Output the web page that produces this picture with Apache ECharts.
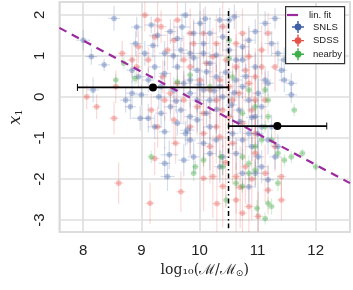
<!DOCTYPE html>
<html><head><meta charset="utf-8">
<script src="https://cdn.jsdelivr.net/npm/echarts@6/dist/echarts.min.js"></script>
<style>html,body{margin:0;padding:0;background:#fff}#c{width:353px;height:290px}</style>
</head><body><div id="c"></div>
<script>
// [x, y, xerr, yerr]
const snls = [
[8.53,1.91,0.1,0.3],[8.0,1.38,0.12,0.25],[8.14,0.98,0.1,0.2],[8.36,0.78,0.1,0.15],[8.17,0.17,0.1,0.3],
[8.92,1.7,0.1,0.25],[9.17,1.75,0.12,0.2],[9.28,1.5,0.15,0.3],[9.5,1.59,0.1,0.3],[9.62,1.42,0.1,0.25],
[9.7,1.7,0.15,0.35],[9.76,1.99,0.1,0.3],[10.01,1.79,0.1,0.3],[10.18,1.55,0.12,0.4],[10.07,1.3,0.1,0.3],
[9.84,1.06,0.15,0.3],[10.07,1.06,0.1,0.25],[10.29,1.02,0.12,0.3],[9.06,1.06,0.1,0.3],[8.84,0.65,0.1,0.3],
[8.95,0.49,0.12,0.25],[9.12,0.41,0.1,0.3],[9.4,0.57,0.1,0.3],[9.34,0.25,0.12,0.35],[9.56,0.17,0.1,0.3],
[9.73,0.33,0.15,0.3],[9.84,0.09,0.1,0.35],[8.84,0.09,0.1,0.3],[9.0,0.05,0.12,0.25],[8.73,-0.08,0.1,0.3],
[8.81,-0.24,0.1,0.3],[8.98,-0.52,0.15,0.3],[9.12,-0.52,0.1,0.35],[9.34,-0.4,0.1,0.3],[9.5,-0.24,0.12,0.3],
[9.68,-0.32,0.1,0.3],[9.84,-0.48,0.1,0.35],[9.23,-0.73,0.12,0.3],[9.4,-0.85,0.1,0.4],[9.62,-0.64,0.1,0.3],
[9.79,-0.81,0.12,0.35],[9.96,-0.56,0.1,0.3],[10.12,-0.4,0.1,0.35],[10.18,-0.73,0.12,0.3],[9.76,-0.89,0.1,0.3],
[9.9,-1.46,0.1,0.4],[9.48,-1.41,0.15,0.35],[9.4,-1.62,0.1,0.4],[9.45,-1.94,0.12,0.35],[9.73,-1.54,0.1,0.4],
[9.84,-1.05,0.1,0.35],[10.07,-1.13,0.12,0.4],[10.29,-1.05,0.1,0.4],[10.4,-1.46,0.1,0.45],[10.35,-1.7,0.1,0.4],
[10.63,0.9,0.1,0.3],[10.74,1.22,0.12,0.3],[10.85,1.38,0.1,0.35],[10.96,1.59,0.1,0.3],[11.13,1.79,0.1,0.3],
[11.3,1.91,0.1,0.25],[11.24,1.3,0.12,0.3],[11.35,1.06,0.1,0.3],[11.41,0.65,0.1,0.3],[11.46,0.41,0.1,0.3],
[11.58,0.05,0.1,0.2],[11.18,0.33,0.1,0.3],[11.01,0.09,0.1,0.35],[11.07,-0.24,0.1,0.3],[10.96,-0.48,0.1,0.35],
[10.85,-0.08,0.1,0.3],[10.74,0.25,0.1,0.3],[10.63,0.41,0.1,0.3],[10.68,-0.32,0.1,0.35],[10.57,-0.89,0.1,0.4],
[10.74,-1.05,0.1,0.4],[10.9,-1.21,0.1,0.35],[11.01,-1.46,0.1,0.4],[11.07,-1.7,0.1,0.4],[10.96,-1.86,0.1,0.35],
[10.74,-1.86,0.1,0.4],[11.18,-1.05,0.1,0.35],[11.3,-1.46,0.1,0.3],[11.35,-1.21,0.1,0.3],[10.4,1.46,0.1,0.35],
[10.51,1.87,0.1,0.3],[10.35,1.87,0.1,0.3],[10.6,1.95,0.1,0.3],[10.12,0.61,0.1,0.3],[10.29,0.49,0.12,0.3],
[9.96,0.65,0.1,0.3],[9.62,0.73,0.1,0.3],[9.84,0.41,0.1,0.3],[10.07,0.17,0.1,0.35],[10.18,-0.08,0.1,0.3],
[10.4,0.0,0.1,0.3],[9.96,-0.08,0.1,0.3],[9.23,0.73,0.1,0.3],[10.35,0.25,0.1,0.35],[9.4,1.06,0.1,0.3],
[9.68,1.14,0.12,0.3],[10.18,0.82,0.1,0.3],[10.96,0.73,0.1,0.35],[11.13,0.41,0.1,0.3],[10.51,1.14,0.1,0.3],
[10.74,0.9,0.1,0.3],[11.46,0.9,0.1,0.3],[11.07,-0.73,0.1,0.3],[10.85,-0.89,0.1,0.35],[10.63,-1.38,0.1,0.4],
[11.24,-0.73,0.1,0.3],[11.58,0.33,0.1,0.25],[10.85,-2.19,0.1,0.4],[11.18,-2.02,0.1,0.35],[10.18,-1.38,0.1,0.4],
[9.9,0.95,0.1,0.3],[10.0,0.3,0.1,0.3],[10.25,0.15,0.1,0.3],[10.3,-0.3,0.1,0.35],[9.6,-0.1,0.1,0.3],
[9.3,0.0,0.1,0.3],[10.45,0.6,0.1,0.3],[10.6,0.1,0.1,0.3],[10.8,0.5,0.1,0.3],[10.9,-0.5,0.1,0.3],
[11.0,-0.9,0.1,0.35],[10.7,-0.6,0.1,0.3],[10.55,-0.2,0.1,0.3],[9.55,1.0,0.1,0.3],[9.2,1.25,0.1,0.3],
[8.9,1.3,0.1,0.3],[10.1,1.9,0.1,0.3],[9.9,1.55,0.1,0.3]
];
const sdss = [
[9.06,1.99,0.08,0.4],[9.28,1.87,0.08,0.5],[9.34,1.71,0.1,0.4],[9.62,1.87,0.08,0.5],[8.67,1.06,0.08,0.3],
[8.84,0.9,0.08,0.4],[8.06,0.0,0.08,0.3],[8.23,-0.24,0.08,0.3],[8.53,-0.52,0.08,0.4],[8.61,-2.1,0.08,0.5],
[9.15,-2.59,0.08,0.5],[9.68,-2.31,0.08,0.5],[9.59,-1.13,0.08,0.5],[9.23,-1.5,0.08,0.4],[9.17,-0.32,0.08,0.4],
[9.37,0.49,0.08,0.4],[9.12,0.9,0.08,0.3],[9.73,0.9,0.08,0.6],[9.9,1.3,0.08,0.6],[10.07,1.55,0.08,0.6],
[10.23,0.98,0.08,0.7],[9.84,0.73,0.08,0.6],[9.5,0.09,0.08,0.5],[9.73,-0.08,0.08,0.6],[9.96,-0.24,0.08,0.7],
[10.07,-0.4,0.08,0.8],[10.18,0.17,0.08,0.7],[10.29,-0.08,0.08,0.8],[10.4,-0.32,0.08,0.9],[9.84,-0.73,0.08,0.7],
[10.07,-0.89,0.08,0.8],[10.29,-0.73,0.08,0.9],[10.35,-0.97,0.08,1.0],[10.18,-1.21,0.08,0.9],[10.23,-1.94,0.08,1.0],
[10.07,-1.98,0.08,0.8],[10.4,-2.18,0.08,1.0],[10.63,-2.51,0.08,0.9],[10.74,-2.83,0.08,0.8],[10.85,-2.67,0.08,0.8],
[11.01,-2.91,0.08,0.6],[10.63,-1.94,0.08,0.9],[10.79,-1.7,0.08,0.9],[10.96,-1.37,0.08,0.8],[11.13,-1.86,0.08,0.7],
[11.18,-2.27,0.08,0.6],[11.41,-2.51,0.08,0.5],[11.41,-1.94,0.08,0.5],[11.3,-1.21,0.08,0.6],[10.57,-1.13,0.08,1.0],
[10.74,-0.64,0.08,0.9],[10.9,-0.32,0.08,0.8],[10.57,-0.08,0.08,0.9],[10.68,0.09,0.08,0.8],[10.85,0.33,0.08,0.8],
[10.96,0.49,0.08,0.7],[10.79,0.65,0.08,0.8],[10.63,0.73,0.08,0.8],[10.85,0.98,0.08,0.7],[11.07,1.14,0.08,0.6],
[10.63,1.3,0.08,0.8],[10.74,1.55,0.08,0.6],[11.18,1.55,0.08,0.5],[11.3,0.73,0.08,0.6],[11.13,-0.08,0.08,0.7],
[10.96,-0.89,0.08,0.8],[10.51,-0.48,0.08,1.0],[10.35,0.41,0.08,0.9],[10.46,0.9,0.08,0.9],[10.12,0.82,0.08,0.7],
[10.01,0.41,0.08,0.7],[9.62,0.33,0.08,0.5],[9.4,-0.08,0.08,0.5],[9.28,-0.73,0.08,0.5],[9.56,-0.56,0.08,0.6],
[8.92,0.73,0.08,0.4],[8.56,0.25,0.08,0.4],[9.45,1.14,0.08,0.5],[9.56,1.38,0.08,0.5],[10.29,1.3,0.08,0.7],
[10.4,1.71,0.08,0.7],[9.84,1.55,0.08,0.6],[9.23,1.46,0.08,0.4],[8.95,1.22,0.08,0.4],[11.07,0.73,0.08,0.6],
[10.96,-0.08,0.08,0.8],[10.51,0.25,0.08,0.9],[10.3,-2.6,0.08,0.9],[10.9,-2.0,0.08,1.0],[10.45,-1.6,0.08,1.1],
[10.7,-2.2,0.08,1.0]
];
const nearby = [
[8.56,0.41,0.05,0.15],[8.7,0.82,0.05,0.15],[8.89,0.45,0.05,0.15],[9.17,-1.46,0.05,0.15],[9.62,0.37,0.05,0.15],
[9.84,0.53,0.05,0.15],[9.93,-1.7,0.05,0.15],[9.9,-1.86,0.05,0.2],[10.18,0.25,0.05,0.15],[10.37,-1.46,0.05,0.15],
[10.46,-2.51,0.05,0.15],[10.63,-2.1,0.05,0.15],[10.74,-1.46,0.05,0.2],[10.85,-1.86,0.05,0.2],[10.96,-1.21,0.05,0.15],
[11.07,-1.05,0.05,0.15],[11.13,-0.73,0.05,0.15],[11.18,-0.48,0.05,0.15],[11.24,-1.05,0.05,0.15],[11.35,-1.37,0.05,0.15],
[11.46,-1.54,0.05,0.15],[11.58,-1.46,0.05,0.15],[11.63,-0.32,0.05,0.15],[11.77,-1.37,0.05,0.1],[12.0,-1.7,0.05,0.1],
[11.13,0.17,0.05,0.15],[11.18,-0.08,0.05,0.15],[10.96,-0.24,0.05,0.15],[10.85,0.17,0.05,0.15],[10.57,0.49,0.05,0.15],
[10.74,-0.4,0.05,0.15],[10.85,-1.62,0.05,0.2],[10.96,-1.78,0.05,0.2],[10.99,-2.71,0.05,0.2],[11.13,-2.96,0.05,0.15],
[11.18,-2.59,0.05,0.15],[11.35,-2.1,0.05,0.2],[11.24,-2.67,0.05,0.2],[10.74,-2.18,0.05,0.15],[10.4,-1.7,0.05,0.2],
[10.07,-1.54,0.05,0.15],[10.51,1.38,0.05,0.15],[10.51,0.94,0.05,0.15],[11.52,1.06,0.05,0.15]
];
// binned means: [x, y, xlow, xhigh]
const bins = [[9.2,0.23,7.9,10.5],[11.34,-0.71,10.5,12.19]];
const fitX = [7.59, 12.59];
const fitY = [1.68, -2.10];
const splitX = [10.5, 10.5];
const splitY = [2.09, -3.2];
const xTicks = [8, 9, 10, 11, 12];
const yTicks = [-3, -2, -1, 0, 1, 2];

const BLUE = '#3f5fa6', RED = '#e5534b', GREEN = '#3fae46', PURPLE = '#9a2a9e';

function errRender(color) {
  return function (params, api) {
    const x = api.value(0), y = api.value(1), xe = api.value(2), ye = api.value(3);
    const c = api.coord([x, y]);
    const l = api.coord([x - xe, y]), r = api.coord([x + xe, y]);
    const t = api.coord([x, y + ye]), b = api.coord([x, y - ye]);
    return { type: 'group', children: [
      { type: 'line', shape: { x1: l[0], y1: l[1], x2: r[0], y2: r[1] }, style: { stroke: color, lineWidth: 1.2, opacity: 0.22 } },
      { type: 'line', shape: { x1: t[0], y1: t[1], x2: b[0], y2: b[1] }, style: { stroke: color, lineWidth: 1.2, opacity: 0.22 } },
      { type: 'circle', shape: { cx: c[0], cy: c[1], r: 2.8 }, style: { fill: color, opacity: 0.34 } }
    ]};
  };
}
function binRender(params, api) {
  const c = api.coord([api.value(0), api.value(1)]);
  const l = api.coord([api.value(2), api.value(1)]);
  const r = api.coord([api.value(3), api.value(1)]);
  return { type: 'group', children: [
    { type: 'line', shape: { x1: l[0], y1: l[1], x2: r[0], y2: r[1] }, style: { stroke: '#000', lineWidth: 1.8 } },
    { type: 'line', shape: { x1: l[0], y1: l[1] - 3.5, x2: l[0], y2: l[1] + 3.5 }, style: { stroke: '#000', lineWidth: 1 } },
    { type: 'line', shape: { x1: r[0], y1: r[1] - 3.5, x2: r[0], y2: r[1] + 3.5 }, style: { stroke: '#000', lineWidth: 1 } },
    { type: 'circle', shape: { cx: c[0], cy: c[1], r: 4 }, style: { fill: '#000' } }
  ]};
}
const crossIcon = 'path://M5.3,0 L6.7,0 L6.7,12 L5.3,12 Z M0,5.3 L12,5.3 L12,6.7 L0,6.7 Z M6,2.6 A3.4,3.4 0 1 1 5.99,2.6 Z';

const chart = echarts.init(document.getElementById('c'), null, { renderer: 'canvas' });
const labelFont = { fontFamily: 'Liberation Sans, Arial, sans-serif', fontSize: 15, color: '#222' };
chart.setOption({
  animation: false,
  backgroundColor: '#fff',
  grid: { left: 52, right: 3, top: 2, bottom: 58, show: true, borderColor: '#c9c9c9', borderWidth: 1.5, backgroundColor: 'transparent' },
  xAxis: {
    type: 'value', min: 7.59, max: 12.59,
    axisLine: { show: false }, axisTick: { show: false },
    axisLabel: Object.assign({ margin: 11, customValues: xTicks }, labelFont),
    splitLine: { show: true, lineStyle: { color: '#dedede', width: 1.6 } },
    name: '{a|log₁₀(ℳ/ℳ}{b|⊙}{a|)}', nameLocation: 'middle', nameGap: 29,
    nameTextStyle: { rich: {
      a: { fontFamily: 'DejaVu Serif, Liberation Serif, serif', fontSize: 14, color: '#222' },
      b: { fontFamily: 'DejaVu Sans, sans-serif', fontSize: 9, color: '#222', padding: [8, 0, 0, 0] }
    } }
  },
  yAxis: {
    type: 'value', min: -3.29, max: 2.31,
    axisLine: { show: false }, axisTick: { show: false },
    axisLabel: Object.assign({ margin: 12, rotate: 90, customValues: yTicks }, labelFont),
    splitLine: { show: true, lineStyle: { color: '#dedede', width: 1.6 } },
    name: '{i|x}{s|1}', nameLocation: 'middle', nameRotate: 90, nameGap: 28,
    nameTextStyle: { rich: {
      i: { fontFamily: 'DejaVu Serif, Liberation Serif, serif', fontStyle: 'italic', fontSize: 16, color: '#222' },
      s: { fontFamily: 'DejaVu Serif, Liberation Serif, serif', fontSize: 10, color: '#222', padding: [7, 0, 0, 0] }
    } }
  },
  legend: [
    { data: [{ name: 'lin. fit', icon: 'path://M0,0 L12,0 L12,2.4 L0,2.4 Z' }], left: 287, top: 10, padding: 0,
      itemWidth: 11, itemHeight: 2.4, z: 10,
      textStyle: { fontFamily: 'Liberation Sans, Arial, sans-serif', fontSize: 9.5, color: '#222', padding: [0, 0, 0, 6] } },
    { data: [{ name: 'SNLS', icon: crossIcon }, { name: 'SDSS', icon: crossIcon }, { name: 'nearby', icon: crossIcon }],
      orient: 'vertical', left: 292, top: 21, padding: 0, itemGap: 1.6, itemWidth: 12, itemHeight: 12, z: 10,
      textStyle: { fontFamily: 'Liberation Sans, Arial, sans-serif', fontSize: 9.5, color: '#222', padding: [0, 0, 0, 4] } }
  ],
  graphic: [{ type: 'rect', left: 285, top: 6, shape: { width: 59, height: 57 }, style: { fill: '#fff', stroke: '#333', lineWidth: 1.2 }, z: 9 }],
  series: [
    { name: 'SDSS', type: 'custom', renderItem: errRender(RED), data: sdss, clip: true, itemStyle: { color: RED }, z: 2 },
    { name: 'SNLS', type: 'custom', renderItem: errRender(BLUE), data: snls, clip: true, itemStyle: { color: BLUE }, z: 2 },
    { name: 'nearby', type: 'custom', renderItem: errRender(GREEN), data: nearby, clip: true, itemStyle: { color: GREEN }, z: 2 },
    { name: 'lin. fit', type: 'line', data: fitX.map((x, i) => [x, fitY[i]]), showSymbol: false, symbol: 'none',
      lineStyle: { color: PURPLE, width: 2.2, type: [8, 6] }, itemStyle: { color: PURPLE }, z: 4 },
    { name: 'split', type: 'line', data: splitX.map((x, i) => [x, splitY[i]]), showSymbol: false, symbol: 'none',
      lineStyle: { color: '#000', width: 1.5, type: [5, 3, 1.5, 3] }, z: 4 },
    { name: 'bins', type: 'custom', renderItem: binRender, data: bins, z: 5 }
  ]
});
</script></body></html>
